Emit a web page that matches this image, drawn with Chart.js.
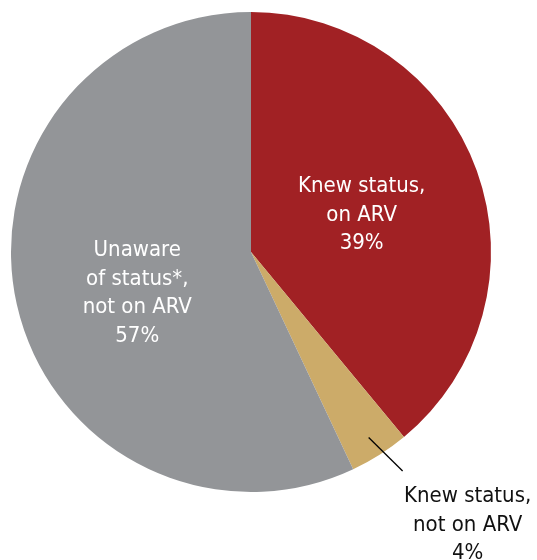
<!DOCTYPE html>
<html>
<head>
<meta charset="utf-8">
<script src="https://cdn.jsdelivr.net/npm/chart.js@4.4.0/dist/chart.umd.min.js"></script>
<style>
  body { margin: 0; background: #fff; }
  #wrap { width: 537px; height: 560px; }
</style>
</head>
<body>
<div id="wrap"><canvas id="hivPie" width="537" height="560"></canvas></div>
<script>
// slices go clockwise from 12 o'clock
const categories = [
  ['Knew status,', 'on ARV'],
  ['Knew status,', 'not on ARV'],
  ['Unaware', 'of status*,', 'not on ARV']
];
const shares = [39, 4, 57];
const sliceColors = ['#A12124', '#CCAB69', '#939598'];

const FONT = '22px "DejaVu Sans Condensed", "DejaVu Sans", sans-serif';
const LINE_H = 28.5;

// label placement: fraction of radius along the slice's middle angle,
// plus a small angular tweak (degrees)
const labelPlace = [
  { r: 0.49, turn: 0, color: '#fff', inside: true },
  { r: 1.0, turn: 0, color: '#111', inside: false },
  { r: 0.5, turn: -6, color: '#fff', inside: true }
];

const sliceLabels = {
  id: 'sliceLabels',
  afterDatasetsDraw(chart) {
    const ctx = chart.ctx;
    const arcs = chart.getDatasetMeta(0).data;
    ctx.save();
    ctx.font = FONT;
    ctx.textAlign = 'center';
    ctx.textBaseline = 'alphabetic';
    arcs.forEach((arc, i) => {
      const p = arc.getProps(['x', 'y', 'startAngle', 'endAngle', 'outerRadius']);
      const lines = categories[i].concat([shares[i] + '%']);
      const place = labelPlace[i];
      const mid = (p.startAngle + p.endAngle) / 2 + place.turn * Math.PI / 180;
      if (place.inside) {
        const cx = p.x + Math.cos(mid) * p.outerRadius * place.r;
        const cy = p.y + Math.sin(mid) * p.outerRadius * place.r;
        const top = cy - (lines.length * LINE_H) / 2 + 23;
        ctx.fillStyle = place.color;
        lines.forEach((t, k) => ctx.fillText(t, cx, top + k * LINE_H));
      } else {
        // leader line out of the thin slice
        const x0 = p.x + Math.cos(mid) * p.outerRadius * 0.915;
        const y0 = p.y + Math.sin(mid) * p.outerRadius * 0.915;
        const x1 = p.x + Math.cos(mid - 0.04) * p.outerRadius * 1.11;
        const y1 = p.y + Math.sin(mid - 0.04) * p.outerRadius * 1.11;
        ctx.strokeStyle = '#000';
        ctx.lineWidth = 1.3;
        ctx.beginPath();
        ctx.moveTo(x0, y0);
        ctx.lineTo(x1, y1);
        ctx.stroke();
        ctx.fillStyle = place.color;
        lines.forEach((t, k) => ctx.fillText(t, x1 + 65, y1 + 31 + k * LINE_H));
      }
    });
    ctx.restore();
  }
};

new Chart(document.getElementById('hivPie'), {
  type: 'pie',
  data: {
    labels: categories.map(c => c.join(' ')),
    datasets: [{
      data: shares,
      backgroundColor: sliceColors,
      borderWidth: 0
    }]
  },
  options: {
    responsive: false,
    animation: false,
    layout: { padding: { left: 11, right: 46, top: 12, bottom: 68 } },
    plugins: {
      legend: { display: false },
      tooltip: { enabled: false }
    }
  },
  plugins: [sliceLabels]
});
</script>
</body>
</html>
